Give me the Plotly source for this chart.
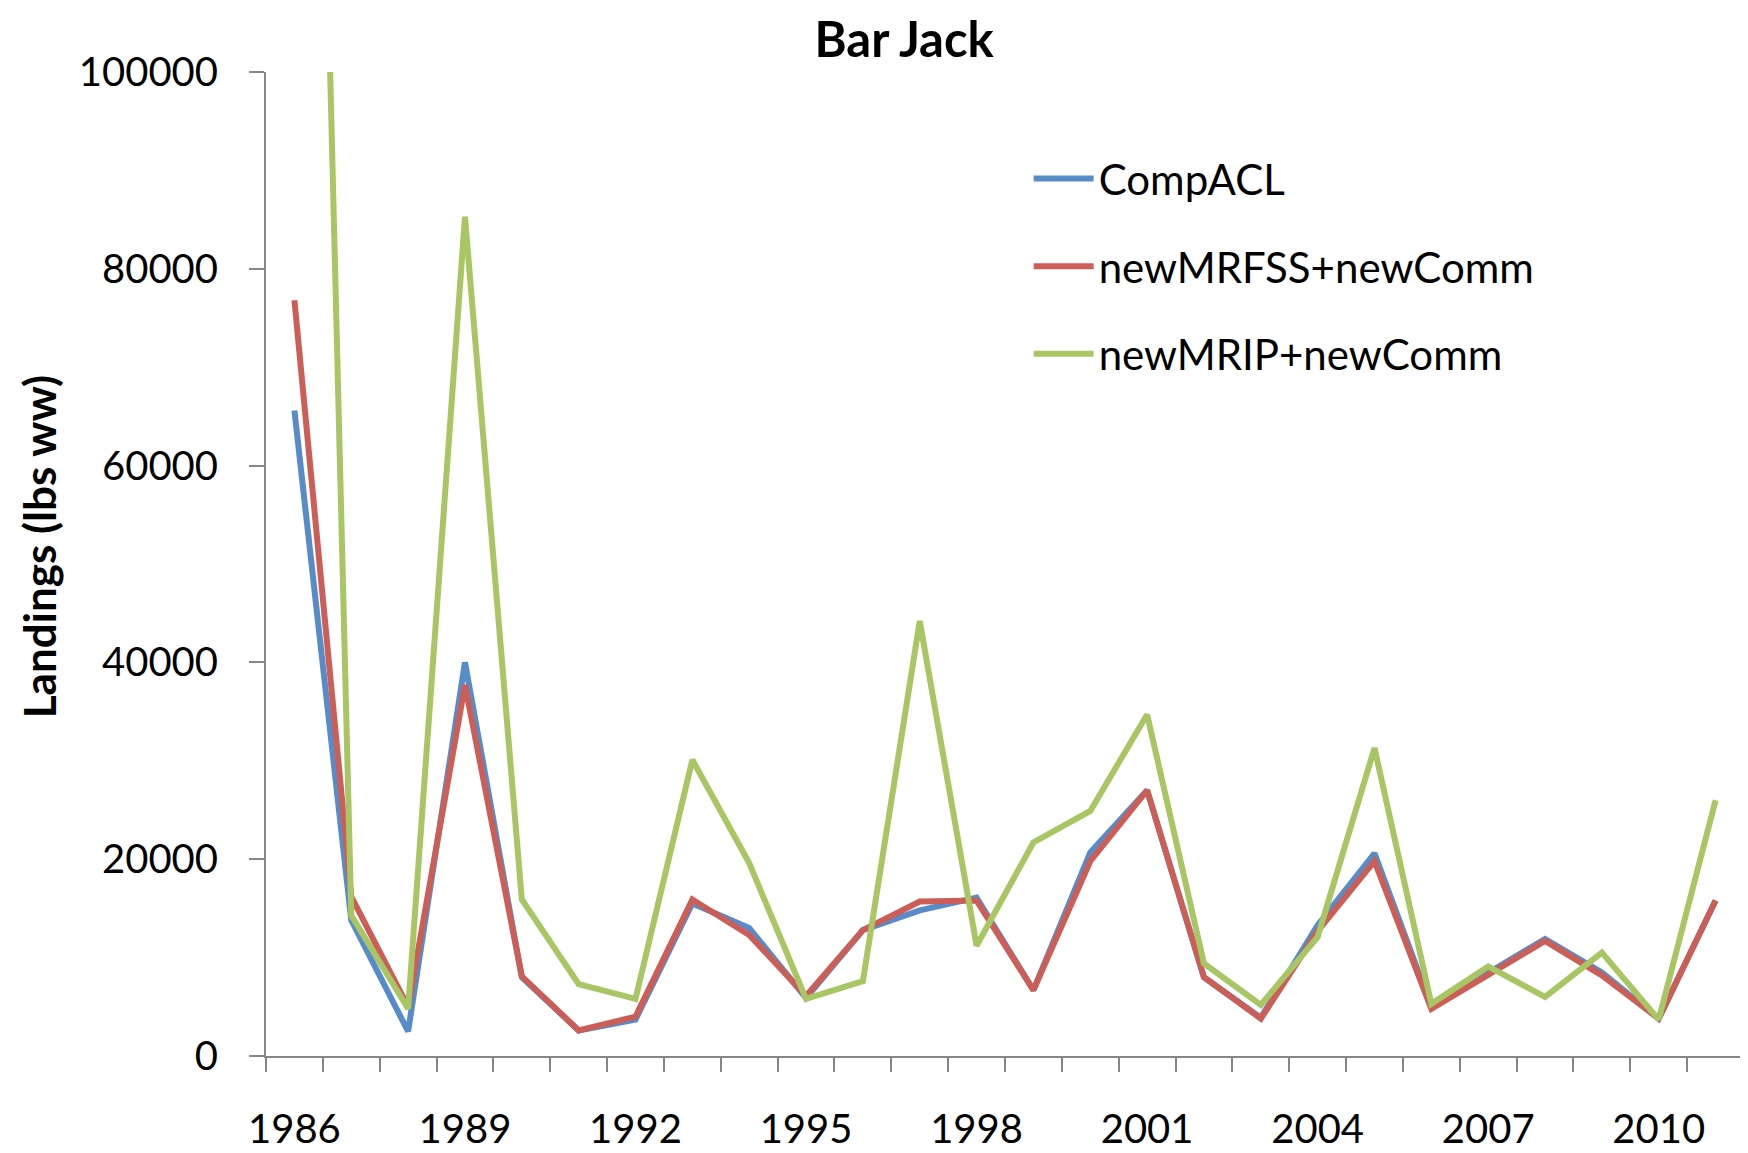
import plotly.graph_objects as go

years = list(range(1986, 2012))

comp_acl = [65600, 13800, 2500, 40000, 8000, 2600, 3700, 15500, 13000, 5900,
            12800, 14800, 16100, 6700, 20700, 27000, 8000, 3900, 13300, 20600,
            5000, 8500, 11900, 8500, 3800, 15800]

new_mrfss = [76800, 16200, 5000, 37700, 8100, 2600, 4000, 15900, 12300, 6100,
             12800, 15700, 15800, 6700, 19800, 27000, 8000, 3800, 12700, 19800,
             4800, 8200, 11700, 8200, 3800, 15800]

new_mrip = [245000, 14300, 4800, 85300, 15900, 7300, 5800, 30100, 19600, 5800,
            7600, 44200, 11200, 21700, 24900, 34700, 9400, 5200, 12100, 31300,
            5300, 9100, 6000, 10500, 3700, 26000]

series_names = ["CompACL", "newMRFSS+newComm", "newMRIP+newComm"]
series_colors = ["#588CC9", "#CC5E58", "#A8C664"]
series_values = [comp_acl, new_mrfss, new_mrip]

label_years = [1986, 1989, 1992, 1995, 1998, 2001, 2004, 2007, 2010]
boundaries = [y - 0.5 for y in years] + [years[-1] + 0.5]

fig = go.Figure()
for i, (name, color, vals) in enumerate(zip(series_names, series_colors, series_values)):
    fig.add_trace(go.Scatter(
        x=years, y=vals, name=name, mode="lines",
        line=dict(color=color, width=6),
        legendgroup=f"g{i}",
    ))

FONT = "Lato"
axis_gray = "#868686"

# the page body has an 8px default margin, so the figure is 8px smaller
fig.update_layout(
    width=1740, height=1145,
    paper_bgcolor="white", plot_bgcolor="white",
    margin=dict(l=258, r=4, t=64, b=97),
    font=dict(family=FONT, size=40, color="black"),
    title=dict(text="Bar Jack", x=0.515, xanchor="center", y=0.972,
               yanchor="middle", yref="container",
               font=dict(family=FONT, size=49, weight="bold", color="black")),
    showlegend=True,
    legend=dict(x=0.516, xanchor="left", y=0.926, yanchor="top",
                bgcolor="rgba(0,0,0,0)", tracegroupgap=30, itemwidth=60,
                font=dict(family=FONT, size=42, color="black")),
    xaxis=dict(
        range=[years[0] - 0.5, years[-1] + 0.5],
        tickmode="array", tickvals=label_years, ticktext=[str(y) for y in label_years],
        ticks="", showgrid=False, zeroline=False, automargin=False,
        showline=True, linecolor=axis_gray, linewidth=2,
        ticklabelstandoff=37,
        tickfont=dict(family=FONT, size=40, color="black"),
        minor=dict(tickmode="array", tickvals=boundaries, ticks="outside",
                   ticklen=14, tickwidth=2, tickcolor=axis_gray, showgrid=False),
    ),
    yaxis=dict(
        range=[0, 100000], tickmode="linear", tick0=0, dtick=20000,
        tickformat="d", ticks="outside", ticklen=15, tickwidth=2, tickcolor=axis_gray,
        showgrid=False, zeroline=False, automargin=False,
        showline=True, linecolor=axis_gray, linewidth=2,
        ticklabelstandoff=23,
        tickfont=dict(family=FONT, size=40, color="black"),
    ),
    annotations=[dict(
        text="<b>Landings (lbs ww)</b>", textangle=-90,
        xref="paper", yref="paper", x=-0.1536, y=0.518,
        xanchor="center", yanchor="middle", showarrow=False,
        font=dict(family=FONT, size=44, color="black"),
    )],
)

fig.write_html("out.html")
